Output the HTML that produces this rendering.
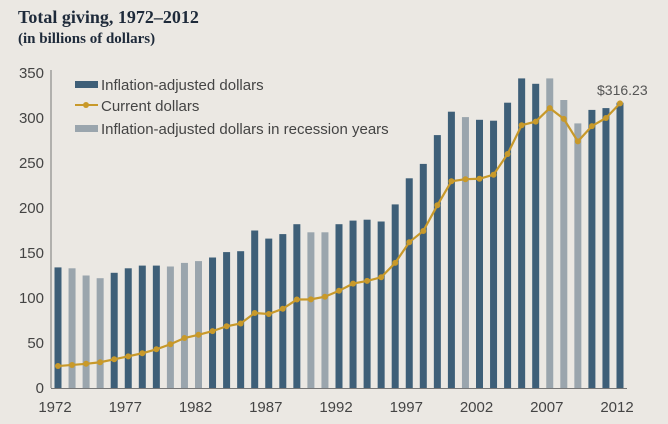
<!DOCTYPE html>
<html><head><meta charset="utf-8"><style>
html,body{margin:0;padding:0;background:#ebe8e3;}
svg{display:block;}
</style></head><body>
<svg id="chart" width="668" height="424" viewBox="0 0 668 424" xmlns="http://www.w3.org/2000/svg">
<rect width="668" height="424" fill="#ebe8e3"/>
<text x="18" y="23" font-family="Liberation Serif, serif" font-weight="bold" font-size="18" fill="#1e2a3a">Total giving, 1972–2012</text>
<text x="18" y="43" font-family="Liberation Serif, serif" font-weight="bold" font-size="15" fill="#1e2a3a">(in billions of dollars)</text>
<g id="axes"></g>
<g id="bars"></g>
<g id="line"></g>
<g id="legend" font-family="Liberation Sans, sans-serif" font-size="15" fill="#444">
<rect x="75" y="81" width="23" height="7" fill="#3e5f78"/>
<text x="101" y="90">Inflation-adjusted dollars</text>
<line x1="75" y1="105" x2="98" y2="105" stroke="#c8992a" stroke-width="2"/>
<circle cx="86" cy="105" r="3" fill="#c8992a"/>
<text x="101" y="111">Current dollars</text>
<rect x="75" y="125" width="23" height="7" fill="#9aa5ad"/>
<text x="101" y="134">Inflation-adjusted dollars in recession years</text>
</g>
<text x="597" y="95" font-family="Liberation Sans, sans-serif" font-size="14" fill="#555">$316.23</text>
</svg>
<script>
const years = [1972,1973,1974,1975,1976,1977,1978,1979,1980,1981,1982,1983,1984,1985,1986,1987,1988,1989,1990,1991,1992,1993,1994,1995,1996,1997,1998,1999,2000,2001,2002,2003,2004,2005,2006,2007,2008,2009,2010,2011,2012];
const inflationAdjusted = [134,133,125,122,128,133,136,136,135,139,141,145,151,152,175,166,171,182,173,173,182,186,187,185,204,233,249,281,307,301,298,297,317,344,338,344,320,294,309,311,317];
const currentDollars = [24.4,25.6,26.9,28.6,31.9,35.2,38.6,43,48.6,55.5,59.1,63.2,68.6,71.7,83.3,82.2,88,98.3,98.5,101.4,108,116,119,123,139,162,174.5,203,229.7,232,232.5,237,260,292,296,311,299,274,291,300,316.23];
const recessionYears = [1973,1974,1975,1980,1981,1982,1990,1991,2001,2007,2008,2009];
const yTicks = [0,50,100,150,200,250,300,350];
const xTickLabels = [1972,1977,1982,1987,1992,1997,2002,2007,2012];

const NS='http://www.w3.org/2000/svg';
const x0=58, x1=620, yBase=388, yTop=73;
function xScale(yr){return x0+(yr-1972)*(x1-x0)/40;}
function yScale(v){return yBase-(v/350)*(yBase-yTop);}
function mk(tag,attrs,parent){const e=document.createElementNS(NS,tag);for(const k in attrs)e.setAttribute(k,attrs[k]);parent.appendChild(e);return e;}

const axes=document.getElementById('axes');
const yAxis=mk('line',{x1:51,y1:70,x2:51,y2:388,stroke:'#777','stroke-width':1},axes);


const xAxis=mk('line',{x1:51,y1:388.5,x2:627,y2:388.5,stroke:'#777','stroke-width':1},axes);


yTicks.forEach(v=>{
  const t=mk('text',{x:44,y:yScale(v)+5,'text-anchor':'end','font-family':'Liberation Sans, sans-serif','font-size':15,fill:'#444'},axes);
  t.textContent=v;
  
  
});
xTickLabels.forEach(yr=>{
  const t=mk('text',{x:xScale(yr)-3,y:412,'text-anchor':'middle','font-family':'Liberation Sans, sans-serif','font-size':15,fill:'#444'},axes);
  t.textContent=yr;
  
  
});

const bars=document.getElementById('bars');
years.forEach((yr,i)=>{
  const rec=recessionYears.includes(yr);
  const top=yScale(inflationAdjusted[i]);
  const b=mk('rect',{x:xScale(yr)-3.5,y:top,width:7,height:yBase-top,fill:rec?'#9aa5ad':'#3e5f78'},bars);
  
  
});

const line=document.getElementById('line');
const pts=years.map((yr,i)=>xScale(yr)+','+yScale(currentDollars[i])).join(' ');
const pl=mk('polyline',{points:pts,fill:'none',stroke:'#c8992a','stroke-width':2.2},line);


years.forEach((yr,i)=>{
  const c=mk('circle',{cx:xScale(yr),cy:yScale(currentDollars[i]),r:3,fill:'#c8992a'},line);
  
  
});
</script>
</body></html>
